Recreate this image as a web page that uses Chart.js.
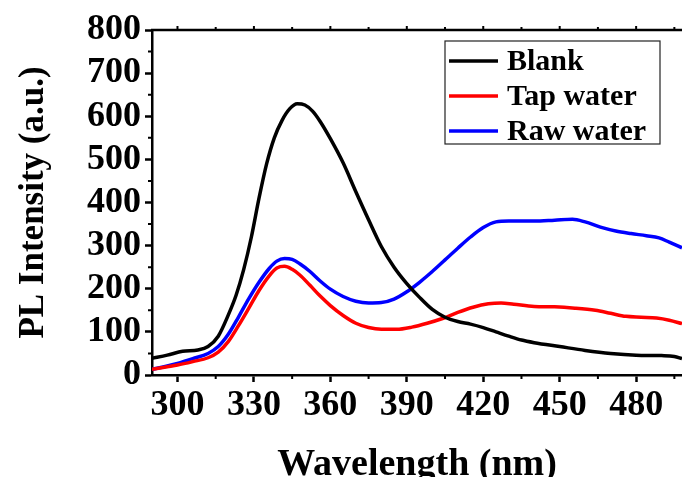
<!DOCTYPE html>
<html lang="en">
  <head>
    <meta charset="UTF-8" />
    <title>PL Intensity</title>
    <script src="https://cdn.jsdelivr.net/npm/chart.js"></script>
    <style>
      body { margin: 0; background: #fff; }
    </style>
  </head>
  <body>
    <canvas id="plChart" width="682" height="477"></canvas>

    <script>
      // values
      const blankX = [290, 296, 302, 308, 312, 316, 320, 323, 326, 329, 332, 335, 338, 341, 344, 347, 350, 353, 356, 360, 365, 370, 375, 380, 385, 390, 395, 400, 405, 410, 415, 420, 425, 430, 435, 440, 450, 460, 470, 480, 490, 495, 498];
      const blankY = [39, 46, 55, 58, 66, 90, 140, 185, 245, 320, 410, 490, 550, 590, 617, 629, 626, 612, 588, 548, 492, 425, 360, 298, 250, 212, 180, 152, 134, 124, 118, 110, 100, 90, 81, 75, 66, 57, 50, 46, 45, 43, 38];

      const tapX = [290, 296, 300, 306, 312, 316, 320, 324, 328, 332, 336, 339, 342, 345, 348, 352, 356, 360, 365, 370, 375, 380, 386, 392, 398, 404, 410, 416, 422, 427, 432, 440, 448, 456, 464, 470, 476, 482, 488, 493, 498];
      const tapY = [13, 19, 23, 31, 40, 53, 78, 115, 155, 196, 230, 248, 252, 245, 232, 208, 183, 161, 138, 120, 110, 106, 106, 111, 120, 131, 145, 157, 165, 167, 164, 159, 158, 155, 150, 143, 136, 134, 132, 127, 119];

      const rawX = [290, 296, 300, 306, 312, 316, 320, 324, 328, 332, 336, 339, 342, 345, 348, 352, 356, 360, 365, 370, 375, 380, 385, 390, 395, 400, 405, 410, 415, 420, 425, 430, 440, 448, 455, 460, 466, 472, 478, 484, 489, 493, 498];
      const rawY = [13, 21, 27, 38, 50, 66, 95, 135, 177, 215, 247, 264, 270, 268, 258, 240, 218, 199, 182, 171, 167, 168, 176, 193, 215, 240, 267, 294, 320, 342, 355, 357, 357, 359, 361, 355, 343, 334, 328, 323, 318, 308, 295];

      const seriesNames = ["Blank", "Tap water", "Raw water"];
      const seriesColors = ["#000000", "#ff0000", "#0000ff"];
      const xTicks = [300, 330, 360, 390, 420, 450, 480];
      const xMinorTicks = [315, 345, 375, 405, 435, 465, 495];
      const yMinorTicks = [50, 150, 250, 350, 450, 550, 650, 750];

      const fontFamily = "'Times New Roman', 'Liberation Serif', serif";

      function toPoints(xs, ys) {
        return xs.map((x, i) => ({ x: x, y: ys[i] }));
      }

      // minor ticks, mirrored top axis and the boxed legend
      const framePlugin = {
        id: "frame",
        afterDraw(chart) {
          const ctx = chart.ctx;
          const area = chart.chartArea;
          const xs = chart.scales.x;
          const ys = chart.scales.y;
          ctx.save();
          ctx.strokeStyle = "#000";
          ctx.lineWidth = 2.5;
          ctx.beginPath();
          ctx.moveTo(area.left - 1, area.top);
          ctx.lineTo(area.right, area.top);
          ctx.stroke();

          ctx.lineWidth = 2;
          ctx.beginPath();
          xMinorTicks.forEach((v) => {
            const px = xs.getPixelForValue(v);
            ctx.moveTo(px, area.bottom);
            ctx.lineTo(px, area.bottom + 4);
            ctx.moveTo(px, area.top);
            ctx.lineTo(px, area.top - 3);
          });
          xTicks.forEach((v) => {
            const px = xs.getPixelForValue(v);
            ctx.moveTo(px, area.top);
            ctx.lineTo(px, area.top - 4);
          });
          yMinorTicks.forEach((v) => {
            const py = ys.getPixelForValue(v);
            ctx.moveTo(area.left, py);
            ctx.lineTo(area.left - 4, py);
          });
          ctx.stroke();

          // legend
          const bx = 445, by = 41, bw = 215, bh = 103;
          ctx.lineWidth = 1.2;
          ctx.strokeStyle = "#222";
          ctx.fillStyle = "#fff";
          ctx.fillRect(bx, by, bw, bh);
          ctx.strokeRect(bx, by, bw, bh);
          ctx.font = "bold 30px " + fontFamily;
          ctx.textBaseline = "middle";
          chart.data.datasets.forEach((ds, i) => {
            const ry = 61 + i * 35;
            ctx.strokeStyle = ds.borderColor;
            ctx.lineWidth = 3.5;
            ctx.beginPath();
            ctx.moveTo(449, ry);
            ctx.lineTo(498, ry);
            ctx.stroke();
            ctx.fillStyle = "#000";
            ctx.fillText(ds.label, 507, ry + 1);
          });
          ctx.restore();
        },
      };

      const ctx = document.getElementById("plChart").getContext("2d");
      new Chart(ctx, {
        type: "line",
        data: {
          datasets: [
            { label: seriesNames[0], data: toPoints(blankX, blankY), borderColor: seriesColors[0] },
            { label: seriesNames[1], data: toPoints(tapX, tapY), borderColor: seriesColors[1] },
            { label: seriesNames[2], data: toPoints(rawX, rawY), borderColor: seriesColors[2] },
          ],
        },
        options: {
          responsive: false,
          animation: false,
          devicePixelRatio: 1,
          layout: { padding: { top: 30, right: 0, left: 0, bottom: 0 } },
          elements: {
            point: { radius: 0 },
            line: { borderWidth: 3.5, tension: 0.4, cubicInterpolationMode: "monotone", fill: false },
          },
          plugins: {
            legend: { display: false },
            tooltip: { enabled: false },
          },
          scales: {
            x: {
              type: "linear",
              min: 290,
              max: 498,
              afterBuildTicks: (scale) => {
                scale.ticks = xTicks.map((v) => ({ value: v }));
              },
              afterFit: (scale) => {
                scale.height = 102;
              },
              grid: {
                drawOnChartArea: false,
                tickLength: 7,
                tickWidth: 2.5,
                tickColor: "#000",
              },
              border: { display: true, color: "#000", width: 2.5 },
              ticks: {
                color: "#000",
                padding: 2,
                maxRotation: 0,
                autoSkip: false,
                font: { family: fontFamily, size: 36, weight: "bold" },
              },
              title: {
                display: true,
                text: "Wavelength (nm)",
                color: "#000",
                padding: { top: 0, bottom: -11 },
                font: { family: fontFamily, size: 38, weight: "bold" },
              },
            },
            y: {
              min: 0,
              max: 800,
              afterFit: (scale) => {
                scale.width = 152;
              },
              grid: {
                drawOnChartArea: false,
                tickLength: 7,
                tickWidth: 2.5,
                tickColor: "#000",
              },
              border: { display: true, color: "#000", width: 2.5 },
              ticks: {
                stepSize: 100,
                autoSkip: false,
                color: "#000",
                padding: 4,
                font: { family: fontFamily, size: 36, weight: "bold" },
              },
              title: {
                display: true,
                text: "PL Intensity (a.u.)",
                color: "#000",
                padding: { top: 13, bottom: 0 },
                font: { family: fontFamily, size: 35, weight: "bold" },
              },
            },
          },
        },
        plugins: [framePlugin],
      });
    </script>
  </body>
</html>
